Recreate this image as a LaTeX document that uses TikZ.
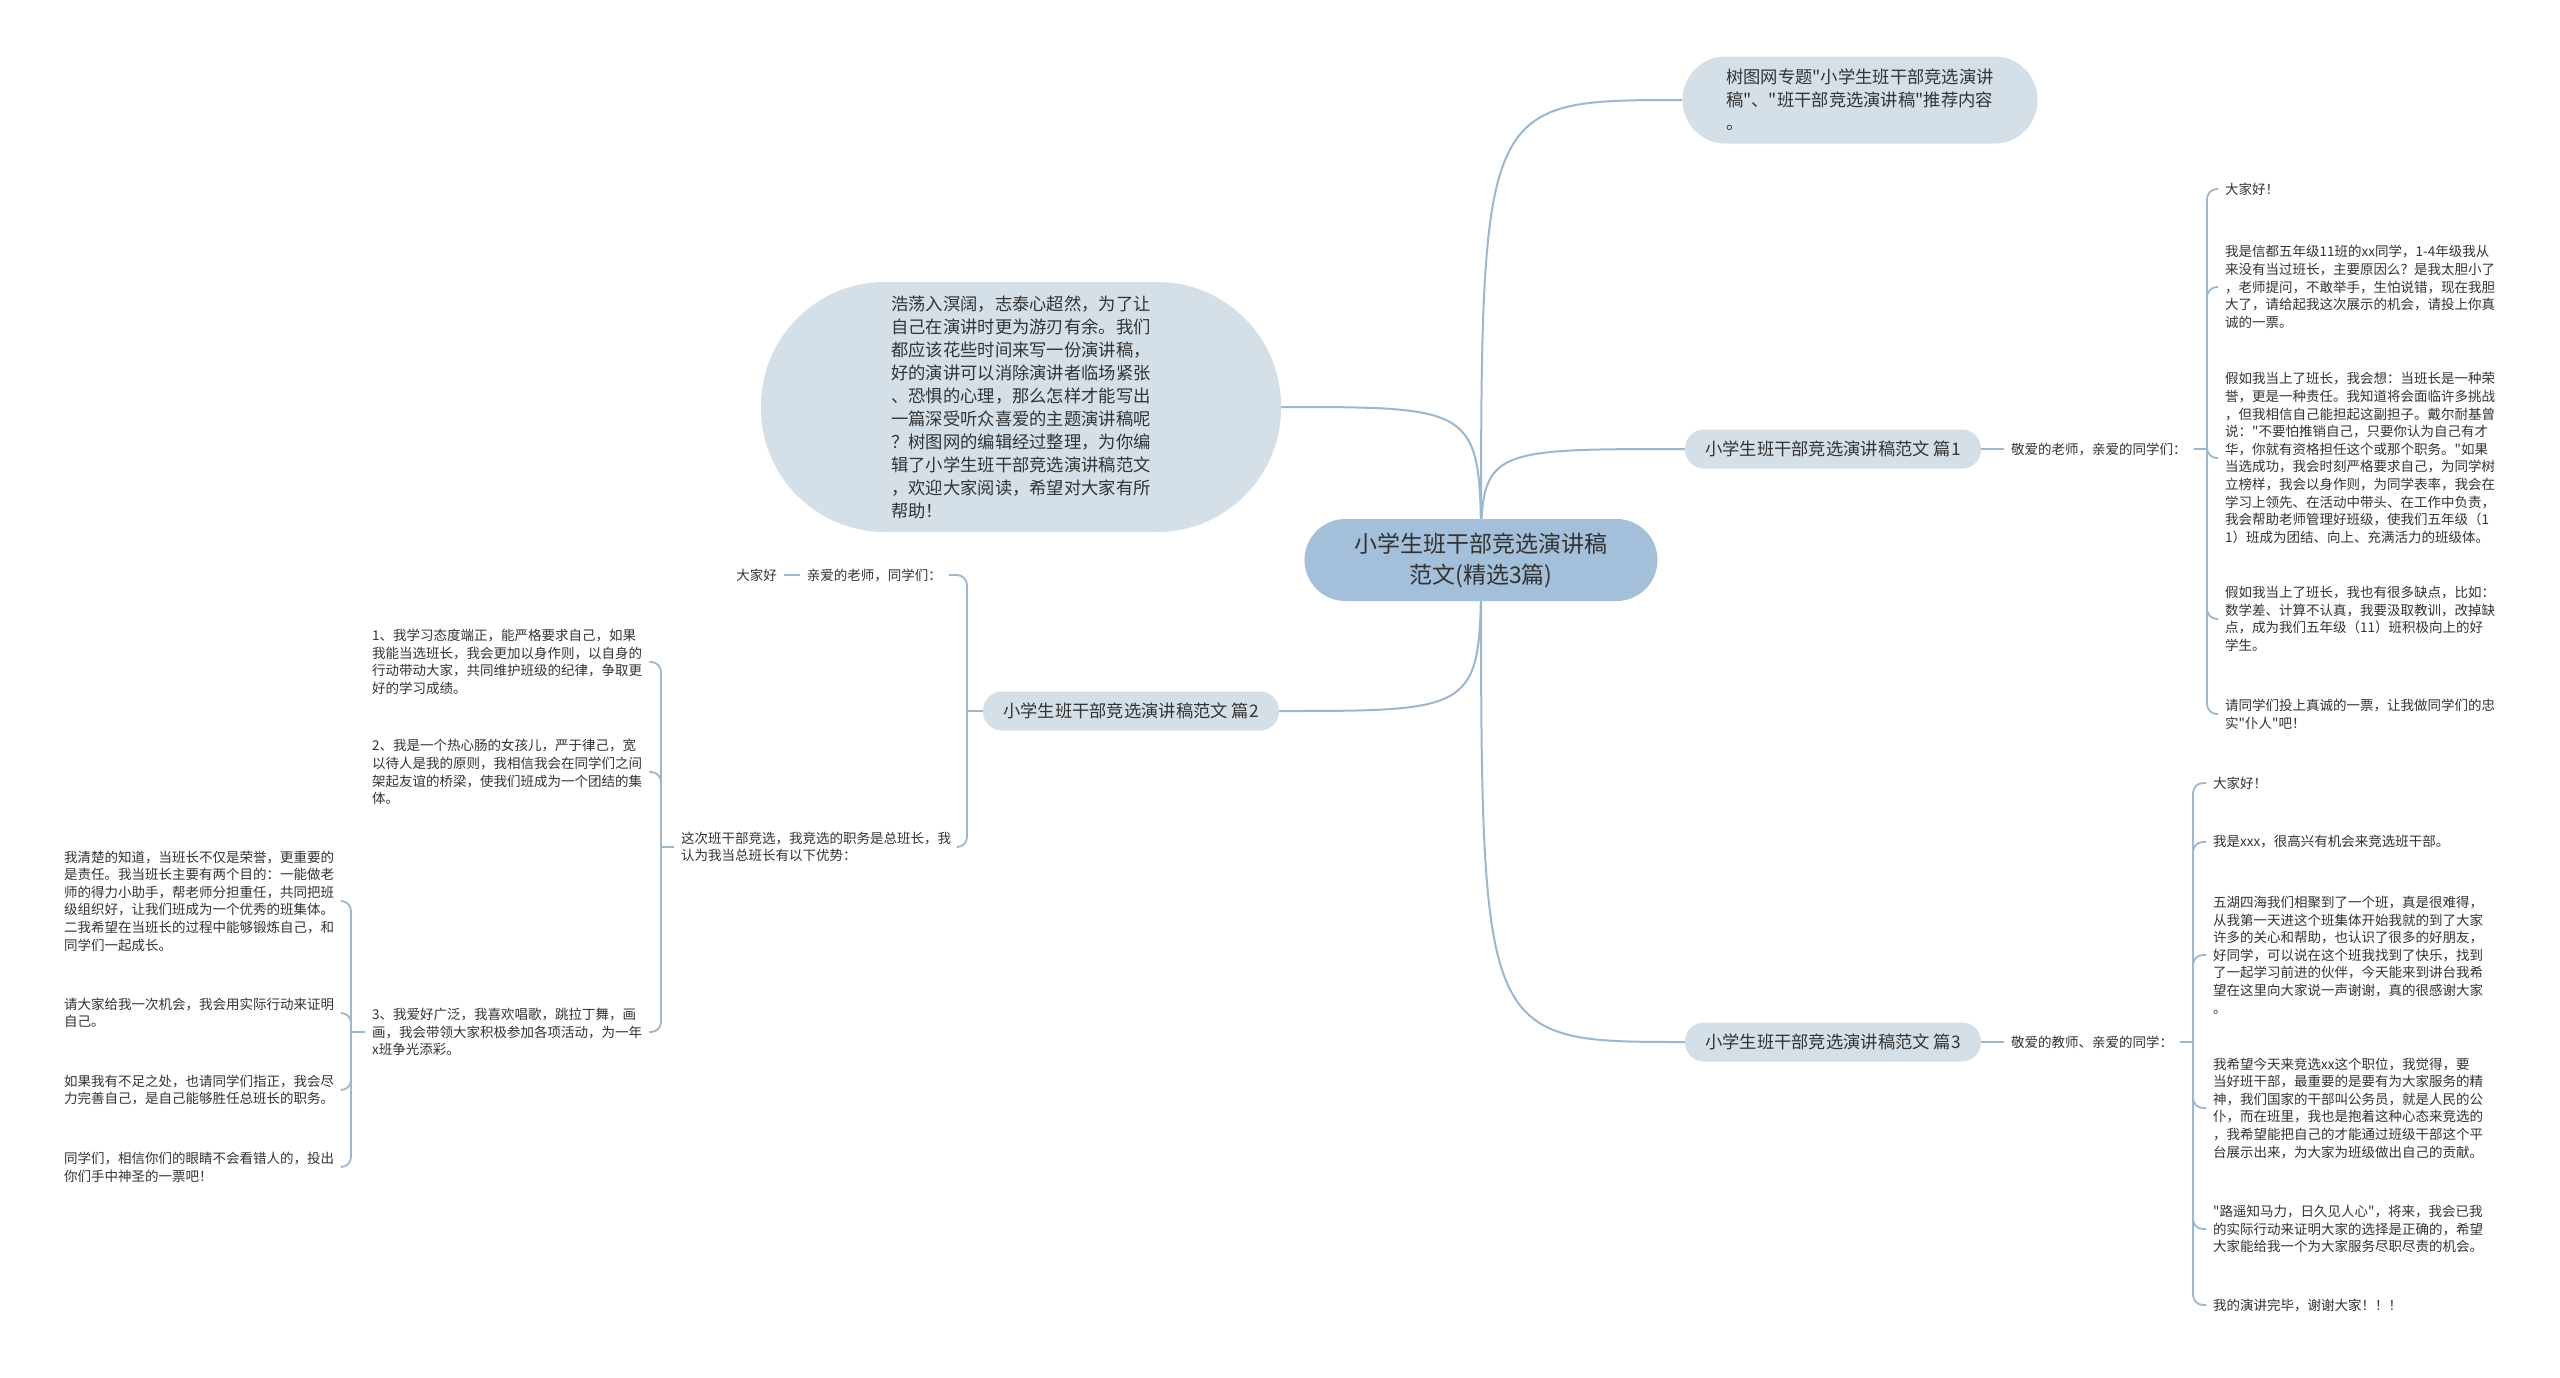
\documentclass[tikz,border=0pt]{standalone}
\usepackage{fontspec}
\setmainfont{Noto Sans CJK SC}[Ligatures=TeXOff]
\usepackage{tikz}
\usetikzlibrary{positioning,backgrounds,calc}
\definecolor{mInk}{HTML}{333333}
\definecolor{mLine}{HTML}{9CB7CE}
\definecolor{mRoot}{HTML}{A3BFD9}
\definecolor{mFill}{HTML}{D4DFE8}

\tikzset{
  rootbox/.style={fill=mRoot, rounded corners=41pt, minimum width=353pt, minimum height=82pt,
    align=center, text=mInk, font=\fontsize{23}{31}\selectfont},
  topicbox/.style={fill=mFill, rounded corners=19pt, minimum width=296pt, minimum height=39pt,
    text=mInk, font=\fontsize{17.3}{23}\selectfont},
  notebox/.style={fill=mFill, align=left, text=mInk, font=\fontsize{17.3}{23}\selectfont},
  leaftext/.style={inner xsep=7pt, inner ysep=1pt, align=left, text=mInk,
    font=\fontsize{13.5}{17.6}\selectfont},
  mainline/.style={draw=mLine, line width=2pt},
  bracket/.style={draw=mLine, line width=1.8pt, rounded corners=10pt},
}

\begin{document}
\begin{tikzpicture}[x=1pt, y=-1pt]
\useasboundingbox (0,0) rectangle (2560,1377);

% centre and first level
\node[rootbox] (root) at (1481,560) {小学生班干部竞选演讲稿\\范文(精选3篇)};
\node[notebox, minimum width=355pt, minimum height=87pt, rounded corners=43pt] (intro) at (1860,100)
  {树图网专题"小学生班干部竞选演讲\\稿"、"班干部竞选演讲稿"推荐内容\\。};
\node[notebox, minimum width=520pt, minimum height=250pt, rounded corners=124pt] (lead) at (1021,407)
  {浩荡入溟阔，志泰心超然，为了让\\自己在演讲时更为游刃有余。我们\\都应该花些时间来写一份演讲稿，\\好的演讲可以消除演讲者临场紧张\\、恐惧的心理，那么怎样才能写出\\一篇深受听众喜爱的主题演讲稿呢\\？树图网的编辑经过整理，为你编\\辑了小学生班干部竞选演讲稿范文\\，欢迎大家阅读，希望对大家有所\\帮助！};
\node[topicbox] (p1) at (1833,449) {小学生班干部竞选演讲稿范文 篇1};
\node[topicbox] (p2) at (1131,711) {小学生班干部竞选演讲稿范文 篇2};
\node[topicbox] (p3) at (1833,1042) {小学生班干部竞选演讲稿范文 篇3};

% 篇1
\node[leaftext, anchor=west] (h1) at (2004,449) {敬爱的老师，亲爱的同学们：};
\coordinate (j1) at (2207,449);
\node[leaftext, anchor=west] (a1) at (2218,189) {大家好！};
\node[leaftext, anchor=west] (a2) at (2218,287) {我是信都五年级11班的xx同学，1-4年级我从\\来没有当过班长，主要原因么？是我太胆小了\\，老师提问，不敢举手，生怕说错，现在我胆\\大了，请给起我这次展示的机会，请投上你真\\诚的一票。};
\node[leaftext, anchor=west] (a3) at (2218,458) {假如我当上了班长，我会想：当班长是一种荣\\誉，更是一种责任。我知道将会面临许多挑战\\，但我相信自己能担起这副担子。戴尔耐基曾\\说："不要怕推销自己，只要你认为自己有才\\华，你就有资格担任这个或那个职务。"如果\\当选成功，我会时刻严格要求自己，为同学树\\立榜样，我会以身作则，为同学表率，我会在\\学习上领先、在活动中带头、在工作中负责，\\我会帮助老师管理好班级，使我们五年级（1\\1）班成为团结、向上、充满活力的班级体。};
\node[leaftext, anchor=west] (a4) at (2218,619) {假如我当上了班长，我也有很多缺点，比如：\\数学差、计算不认真，我要汲取教训，改掉缺\\点，成为我们五年级（11）班积极向上的好\\学生。};
\node[leaftext, anchor=west] (a5) at (2218,714) {请同学们投上真诚的一票，让我做同学们的忠\\实"仆人"吧！};

% 篇3
\node[leaftext, anchor=west] (h3) at (2004,1042) {敬爱的教师、亲爱的同学：};
\coordinate (j3) at (2193,1042);
\node[leaftext, anchor=west] (b1) at (2206,783) {大家好！};
\node[leaftext, anchor=west] (b2) at (2206,842) {我是xxx，很高兴有机会来竞选班干部。};
\node[leaftext, anchor=west] (b3) at (2206,955) {五湖四海我们相聚到了一个班，真是很难得，\\从我第一天进这个班集体开始我就的到了大家\\许多的关心和帮助，也认识了很多的好朋友，\\好同学，可以说在这个班我找到了快乐，找到\\了一起学习前进的伙伴，今天能来到讲台我希\\望在这里向大家说一声谢谢，真的很感谢大家\\。};
\node[leaftext, anchor=west] (b4) at (2206,1108) {我希望今天来竞选xx这个职位，我觉得，要\\当好班干部，最重要的是要有为大家服务的精\\神，我们国家的干部叫公务员，就是人民的公\\仆，而在班里，我也是抱着这种心态来竞选的\\，我希望能把自己的才能通过班级干部这个平\\台展示出来，为大家为班级做出自己的贡献。};
\node[leaftext, anchor=west] (b5) at (2206,1229) {"路遥知马力，日久见人心"，将来，我会已我\\的实际行动来证明大家的选择是正确的，希望\\大家能给我一个为大家服务尽职尽责的机会。};
\node[leaftext, anchor=west] (b6) at (2206,1305) {我的演讲完毕，谢谢大家！！！};

% 篇2
\coordinate (j2) at (967,711);
\node[leaftext, anchor=east] (dear2) at (949,575) {亲爱的老师，同学们：};
\node[leaftext, anchor=east] (hello2) at (784,575) {大家好};
\node[leaftext, anchor=west] (sel) at (674,847) {这次班干部竞选，我竞选的职务是总班长，我\\认为我当总班长有以下优势：};
\coordinate (j4) at (661,847);
\node[leaftext, anchor=west] (s1) at (365,662) {1、我学习态度端正，能严格要求自己，如果\\我能当选班长，我会更加以身作则，以自身的\\行动带动大家，共同维护班级的纪律，争取更\\好的学习成绩。};
\node[leaftext, anchor=west] (s2) at (365,772) {2、我是一个热心肠的女孩儿，严于律己，宽\\以待人是我的原则，我相信我会在同学们之间\\架起友谊的桥梁，使我们班成为一个团结的集\\体。};
\node[leaftext, anchor=west] (s3) at (365,1032) {3、我爱好广泛，我喜欢唱歌，跳拉丁舞，画\\画，我会带领大家积极参加各项活动，为一年\\x班争光添彩。};
\coordinate (j5) at (351,1032);
\node[leaftext, anchor=west] (t1) at (57,901) {我清楚的知道，当班长不仅是荣誉，更重要的\\是责任。我当班长主要有两个目的：一能做老\\师的得力小助手，帮老师分担重任，共同把班\\级组织好，让我们班成为一个优秀的班集体。\\二我希望在当班长的过程中能够锻炼自己，和\\同学们一起成长。};
\node[leaftext, anchor=west] (t2) at (57,1013) {请大家给我一次机会，我会用实际行动来证明\\自己。};
\node[leaftext, anchor=west] (t3) at (57,1090) {如果我有不足之处，也请同学们指正，我会尽\\力完善自己，是自己能够胜任总班长的职务。};
\node[leaftext, anchor=west] (t4) at (57,1167) {同学们，相信你们的眼睛不会看错人的，投出\\你们手中神圣的一票吧！};

\begin{scope}[on background layer]
  \fill[white] (0,0) rectangle (2560,1377);
  % curves from the centre
  \draw[mainline] (root.center) .. controls (root.center |- intro.west) .. (intro.west);
  \draw[mainline] (root.center) .. controls (root.center |- lead.east) .. (lead.east);
  \draw[mainline] (root.center) .. controls (root.center |- p1.west) .. (p1.west);
  \draw[mainline] (root.center) .. controls (root.center |- p2.east) .. (p2.east);
  \draw[mainline] (root.center) .. controls (root.center |- p3.west) .. (p3.west);
  % brackets
  \draw[bracket] (p1.east) -- (h1.west);
  \draw[bracket] (h1.east) -- (j1);
  \foreach \k in {a1,a2,a3,a4,a5}
    \draw[bracket] (j1) |- (\k.west);
  \draw[bracket] (p3.east) -- (h3.west);
  \draw[bracket] (h3.east) -- (j3);
  \foreach \k in {b1,b2,b3,b4,b5,b6}
    \draw[bracket] (j3) |- (\k.west);
  \draw[bracket] (p2.west) -- (j2);
  \foreach \k in {dear2,sel}
    \draw[bracket] (j2) |- (\k.east);
  \draw[bracket] (dear2.west) -- (hello2.east);
  \draw[bracket] (sel.west) -- (j4);
  \foreach \k in {s1,s2,s3}
    \draw[bracket] (j4) |- (\k.east);
  \draw[bracket] (s3.west) -- (j5);
  \foreach \k in {t1,t2,t3,t4}
    \draw[bracket] (j5) |- (\k.east);
\end{scope}
\end{tikzpicture}
\end{document}
